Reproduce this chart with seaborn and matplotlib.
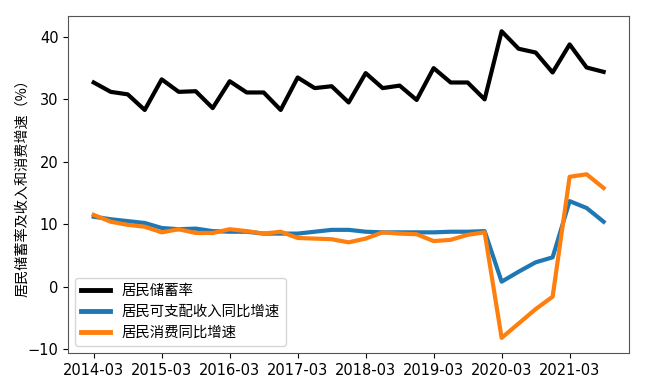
import numpy as np
import pandas as pd
import seaborn as sns
import matplotlib.pyplot as plt

plt.rcParams['font.family'] = ['DejaVu Sans', 'Noto Sans CJK SC']

quarters = ["2014-03", "2014-06", "2014-09", "2014-12",
            "2015-03", "2015-06", "2015-09", "2015-12",
            "2016-03", "2016-06", "2016-09", "2016-12",
            "2017-03", "2017-06", "2017-09", "2017-12",
            "2018-03", "2018-06", "2018-09", "2018-12",
            "2019-03", "2019-06", "2019-09", "2019-12",
            "2020-03", "2020-06", "2020-09", "2020-12",
            "2021-03", "2021-06", "2021-09"]

# 居民储蓄率
saving_rate = [32.7, 31.2, 30.8, 28.3, 33.2, 31.2, 31.3, 28.6,
               32.9, 31.1, 31.1, 28.3, 33.5, 31.8, 32.1, 29.5,
               34.2, 31.8, 32.2, 29.9, 35.0, 32.7, 32.7, 30.0,
               40.9, 38.1, 37.5, 34.3, 38.8, 35.1, 34.4]
# 居民可支配收入同比增速
income_growth = [11.2, 10.8, 10.5, 10.2, 9.4, 9.2, 9.3, 8.9,
                 8.8, 8.8, 8.5, 8.5, 8.5, 8.8, 9.1, 9.1,
                 8.8, 8.7, 8.7, 8.7, 8.7, 8.8, 8.8, 8.9,
                 0.8, 2.4, 3.9, 4.7, 13.7, 12.6, 10.4]
# 居民消费同比增速
consume_growth = [11.5, 10.4, 9.9, 9.6, 8.7, 9.2, 8.6, 8.6,
                  9.2, 8.9, 8.5, 8.8, 7.8, 7.7, 7.6, 7.1,
                  7.7, 8.7, 8.5, 8.4, 7.3, 7.5, 8.3, 8.7,
                  -8.2, -5.9, -3.6, -1.6, 17.6, 18.0, 15.8]

labels = ["居民储蓄率", "居民可支配收入同比增速", "居民消费同比增速"]
colors = ["black", "#1f77b4", "#ff7f0e"]

idx = np.arange(len(quarters))
df = pd.DataFrame({
    "x": np.tile(idx, 3),
    "value": saving_rate + income_growth + consume_growth,
    "series": np.repeat(labels, len(quarters)),
})

fig, ax = plt.subplots(figsize=(6.56, 3.89), dpi=100)
fig.subplots_adjust(left=0.104, right=0.959, bottom=0.092, top=0.959)

sns.lineplot(data=df, x="x", y="value", hue="series", hue_order=labels,
             palette=colors, linewidth=3, ax=ax)

ax.set_xticks(idx[::4])
ax.set_xticklabels(quarters[::4])
ax.tick_params(axis='both', labelsize=10.5)
ax.set_xlabel("")
ax.set_ylabel("居民储蓄率及收入和消费增速（%）", fontsize=10.2, labelpad=-1,
              family=['Noto Sans CJK SC', 'DejaVu Sans'])
ax.set_yticks([-10, 0, 10, 20, 30, 40])
for sp in ax.spines.values():
    sp.set_color("#555555")

leg = ax.legend(loc="lower left",
                prop={'family': ['Noto Sans CJK SC', 'DejaVu Sans'], 'size': 10.4})
for line in leg.get_lines():
    line.set_linewidth(3.5)

fig.savefig("out.png", dpi=100)
